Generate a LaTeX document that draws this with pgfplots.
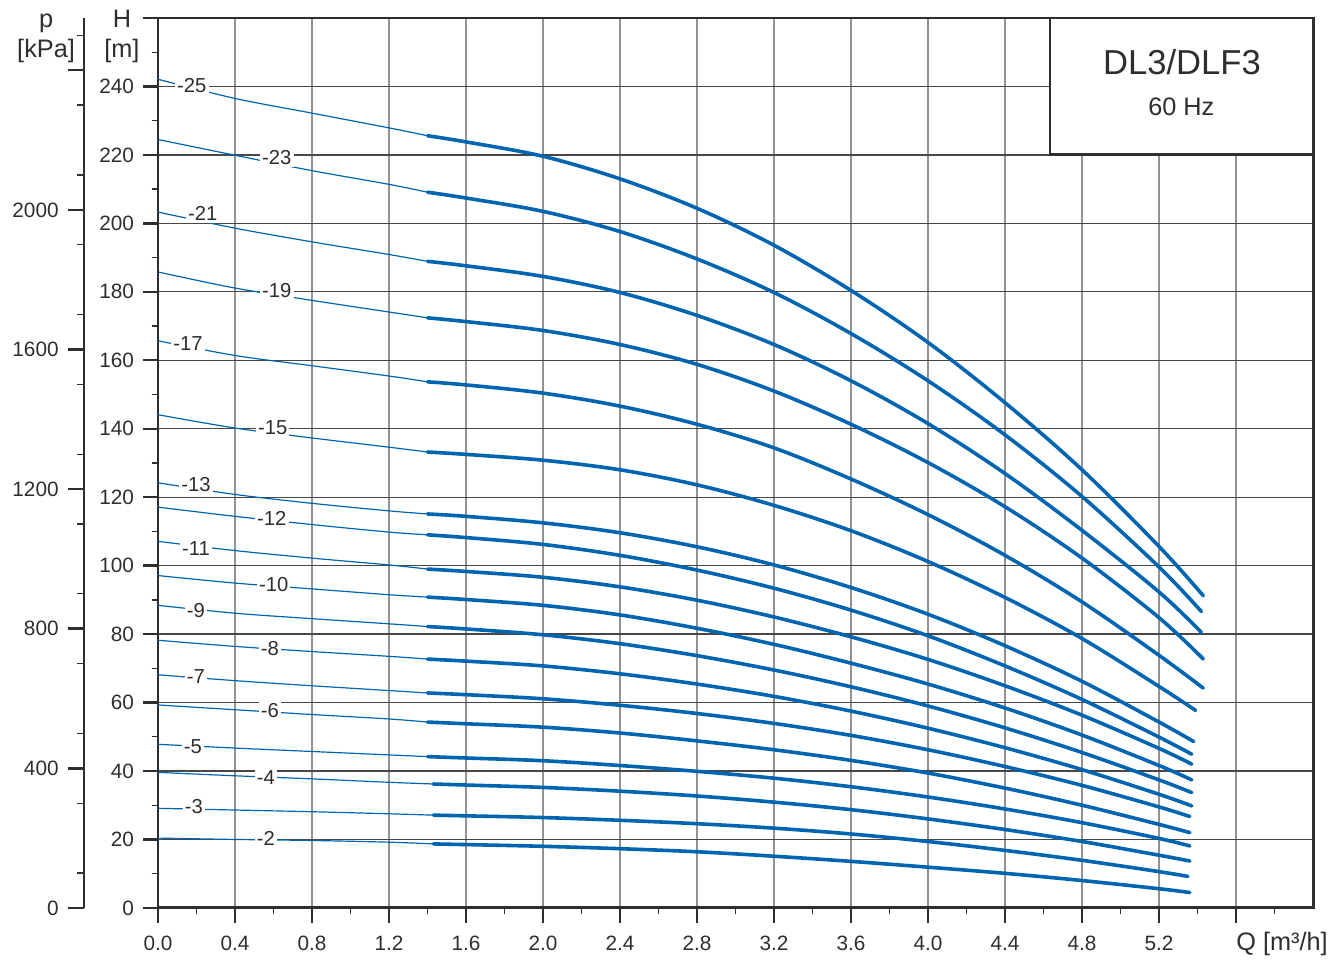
\documentclass[border=0pt]{standalone}
\usepackage{fontspec}
\setmainfont{Liberation Sans}
\usepackage{pgfplots}
\pgfplotsset{compat=1.18}
\definecolor{curve}{RGB}{0,101,176}
\definecolor{gridv}{RGB}{150,145,145}
\definecolor{gridh}{RGB}{75,70,70}
\definecolor{axc}{RGB}{50,45,45}
\pgfplotsset{
  thinc/.style={color=curve, line width=0.45pt, smooth, tension=0.55},
  thickc/.style={color=curve, line width=1.35pt, smooth, tension=0.55, line cap=round},
}
\tikzset{
  lbl/.style={fill=white, inner sep=0.8pt, text=axc, font=\fontsize{7.6}{9}\selectfont},
}
\begin{document}
\begin{tikzpicture}
\useasboundingbox (0,0) rectangle (500pt,362.1pt);
% pressure axis (kPa)
\begin{axis}[
  at={(31.56pt,21.04pt)}, anchor=south west, scale only axis,
  width=10pt, height=334.3pt,
  xmin=0, xmax=1, ymin=0, ymax=2549.7,
  axis x line=none, axis y line*=left,
  ytick={0,400,800,1200,1600,2000,2400},
  yticklabels={0,400,800,1200,1600,2000,{}},
  minor ytick={100,300,500,700,900,1100,1300,1500,1700,1900,2100,2300,2500},
  tick align=outside,
  major tick length=6pt, minor tick length=2.6pt,
  major tick style={line width=0.9pt, axc},
  minor tick style={line width=0.5pt, axc},
  axis line style={line width=1.1pt, axc},
  tick label style={font=\fontsize{7.8}{9}\selectfont, text=axc},
]
\end{axis}
% main axis
\begin{axis}[
  at={(59.35pt,21.04pt)}, anchor=south west, scale only axis,
  width=433.9pt, height=334.3pt,
  xmin=0, xmax=6, ymin=0, ymax=260,
  xtick={0,0.4,0.8,1.2,1.6,2.0,2.4,2.8,3.2,3.6,4.0,4.4,4.8,5.2,5.6},
  xticklabels={0.0,0.4,0.8,1.2,1.6,2.0,2.4,2.8,3.2,3.6,4.0,4.4,4.8,5.2,{}},
  minor xtick={0.2,0.6,1.0,1.4,1.8,2.2,2.6,3.0,3.4,3.8,4.2,4.6,5.0,5.4,5.8},
  ytick={0,20,40,60,80,100,120,140,160,180,200,220,240,260},
  yticklabels={0,20,40,60,80,100,120,140,160,180,200,220,240,{}},
  minor ytick={10,30,50,70,90,110,130,150,170,190,210,230,250},
  tick align=outside, tick pos=left,
  major tick length=5.5pt, minor tick length=2.4pt,
  major tick style={line width=0.9pt, axc},
  minor tick style={line width=0.5pt, axc},
  axis line style={line width=1.1pt, axc},
  grid=major,
  major x grid style={gridv, line width=0.6pt},
  major y grid style={gridh, line width=0.5pt},
  tick label style={font=\fontsize{7.8}{9}\selectfont, text=axc},
  xticklabel style={yshift=-1.5pt},
  clip=false,
]
% -25
\addplot[thinc] coordinates {(0,242.1)(0.4,236.5)(0.8,232.2)(1.2,227.9)(1.4,225.6)};
\addplot[thickc] coordinates {(1.4,225.6)(1.6,223.8)(2.0,219.6)(2.4,213.0)(2.8,204.4)(3.2,193.6)(3.6,180.4)(4.0,165.2)(4.4,147.6)(4.8,128.0)(5.2,105.6)(5.43,91.2)};
% -23
\addplot[thinc] coordinates {(0,224.5)(0.4,219.9)(0.8,215.4)(1.2,211.4)(1.4,209.1)};
\addplot[thickc] coordinates {(1.4,209.1)(1.6,207.4)(2.0,203.5)(2.4,197.6)(2.8,189.6)(3.2,179.8)(3.6,167.8)(4.0,154.0)(4.4,138.2)(4.8,120.2)(5.2,99.6)(5.42,86.6)};
% -21
\addplot[thinc] coordinates {(0,203.3)(0.4,198.6)(0.8,194.6)(1.2,190.9)(1.4,188.9)};
\addplot[thickc] coordinates {(1.4,188.9)(1.6,187.6)(2.0,184.5)(2.4,179.8)(2.8,173.1)(3.2,164.6)(3.6,154.0)(4.0,141.5)(4.4,126.9)(4.8,110.3)(5.2,92.3)(5.42,80.5)};
% -19
\addplot[thinc] coordinates {(0,185.8)(0.4,181.1)(0.8,177.5)(1.2,174.1)(1.4,172.4)};
\addplot[thickc] coordinates {(1.4,172.4)(1.6,171.3)(2.0,168.7)(2.4,164.6)(2.8,158.8)(3.2,151.0)(3.6,141.3)(4.0,130.1)(4.4,117.2)(4.8,102.2)(5.2,84.8)(5.43,72.7)};
% -17
\addplot[thinc] coordinates {(0,165.7)(0.4,161.4)(0.8,158.4)(1.2,155.4)(1.4,153.7)};
\addplot[thickc] coordinates {(1.4,153.7)(1.6,152.8)(2.0,150.4)(2.4,146.6)(2.8,141.3)(3.2,134.4)(3.6,125.3)(4.0,114.9)(4.4,103.0)(4.8,89.4)(5.2,73.8)(5.43,64.2)};
% -15
\addplot[thinc] coordinates {(0,144.1)(0.4,140.2)(0.8,137.3)(1.2,134.6)(1.4,133.2)};
\addplot[thickc] coordinates {(1.4,133.2)(1.6,132.5)(2.0,130.8)(2.4,128.0)(2.8,123.6)(3.2,117.6)(3.6,110.2)(4.0,101.2)(4.4,90.7)(4.8,78.7)(5.2,64.7)(5.39,57.7)};
% -13
\addplot[thinc] coordinates {(0,124.2)(0.4,120.8)(0.8,118.2)(1.2,116.0)(1.4,115.1)};
\addplot[thickc] coordinates {(1.4,115.1)(1.6,114.4)(2.0,112.5)(2.4,109.6)(2.8,105.5)(3.2,100.2)(3.6,93.6)(4.0,85.8)(4.4,76.6)(4.8,66.2)(5.2,54.3)(5.38,48.6)};
% -12
\addplot[thinc] coordinates {(0,117.1)(0.4,114.4)(0.8,112.0)(1.2,109.8)(1.4,109.0)};
\addplot[thickc] coordinates {(1.4,109.0)(1.6,108.2)(2.0,106.2)(2.4,103.0)(2.8,98.7)(3.2,93.4)(3.6,87.0)(4.0,79.5)(4.4,70.7)(4.8,60.9)(5.2,49.9)(5.37,44.9)};
% -11
\addplot[thinc] coordinates {(0,107.1)(0.4,104.4)(0.8,102.2)(1.2,100.2)(1.4,99.0)};
\addplot[thickc] coordinates {(1.4,99.0)(1.6,98.3)(2.0,96.6)(2.4,93.8)(2.8,89.9)(3.2,85.0)(3.6,79.2)(4.0,72.6)(4.4,64.9)(4.8,56.3)(5.2,46.6)(5.37,42.0)};
% -10
\addplot[thinc] coordinates {(0,97.1)(0.4,94.9)(0.8,93.2)(1.2,91.5)(1.4,90.8)};
\addplot[thickc] coordinates {(1.4,90.8)(1.6,90.1)(2.0,88.4)(2.4,85.6)(2.8,81.7)(3.2,77.0)(3.6,71.5)(4.0,65.4)(4.4,58.4)(4.8,50.5)(5.2,41.6)(5.37,37.4)};
% -9
\addplot[thinc] coordinates {(0,88.4)(0.4,86.1)(0.8,84.5)(1.2,83.0)(1.4,82.2)};
\addplot[thickc] coordinates {(1.4,82.2)(1.6,81.5)(2.0,79.8)(2.4,77.2)(2.8,73.7)(3.2,69.5)(3.6,64.6)(4.0,59.0)(4.4,52.6)(4.8,45.4)(5.2,37.4)(5.37,33.7)};
% -8
\addplot[thinc] coordinates {(0,78.2)(0.4,76.4)(0.8,74.9)(1.2,73.5)(1.4,72.7)};
\addplot[thickc] coordinates {(1.4,72.7)(1.6,72.1)(2.0,70.7)(2.4,68.4)(2.8,65.4)(3.2,61.8)(3.6,57.5)(4.0,52.5)(4.4,46.8)(4.8,40.4)(5.2,33.2)(5.37,29.8)};
% -7
\addplot[thinc] coordinates {(0,68.1)(0.4,66.4)(0.8,64.9)(1.2,63.5)(1.4,62.8)};
\addplot[thickc] coordinates {(1.4,62.8)(1.6,62.3)(2.0,61.1)(2.4,59.2)(2.8,56.8)(3.2,53.9)(3.6,50.4)(4.0,46.2)(4.4,41.3)(4.8,35.8)(5.2,29.5)(5.36,26.7)};
% -6
\addplot[thinc] coordinates {(0,59.3)(0.4,57.9)(0.8,56.5)(1.2,55.2)(1.4,54.3)};
\addplot[thickc] coordinates {(1.4,54.3)(1.6,53.8)(2.0,52.8)(2.4,51.1)(2.8,48.8)(3.2,46.2)(3.6,43.1)(4.0,39.4)(4.4,35.0)(4.8,30.0)(5.2,24.4)(5.36,22.0)};
% -5
\addplot[thinc] coordinates {(0,47.8)(0.4,46.7)(0.8,45.7)(1.2,44.7)(1.4,44.2)};
\addplot[thickc] coordinates {(1.4,44.2)(1.6,43.8)(2.0,43.0)(2.4,41.6)(2.8,39.9)(3.2,37.9)(3.6,35.4)(4.0,32.4)(4.4,28.9)(4.8,24.9)(5.2,20.3)(5.36,18.1)};
% -4
\addplot[thinc] coordinates {(0,39.6)(0.4,38.6)(0.8,37.7)(1.2,36.7)(1.43,36.2)};
\addplot[thickc] coordinates {(1.43,36.2)(1.6,35.9)(2.0,35.2)(2.4,34.1)(2.8,32.7)(3.2,30.9)(3.6,28.7)(4.0,26.0)(4.4,22.9)(4.8,19.4)(5.2,15.4)(5.36,13.7)};
% -3
\addplot[thinc] coordinates {(0,29.1)(0.4,28.6)(0.8,28.1)(1.2,27.5)(1.43,27.1)};
\addplot[thickc] coordinates {(1.43,27.1)(1.6,26.9)(2.0,26.4)(2.4,25.6)(2.8,24.6)(3.2,23.3)(3.6,21.6)(4.0,19.4)(4.4,16.8)(4.8,13.9)(5.2,10.6)(5.35,9.2)};
% -2
\addplot[thinc] coordinates {(0,20.4)(0.4,20.0)(0.8,19.7)(1.2,19.2)(1.43,18.7)};
\addplot[thickc] coordinates {(1.43,18.7)(1.6,18.5)(2.0,18.0)(2.4,17.3)(2.8,16.4)(3.2,15.1)(3.6,13.6)(4.0,11.9)(4.4,10.1)(4.8,8.0)(5.2,5.6)(5.36,4.5)};
% curve labels
\node[lbl] at (axis cs:0.176,240.3) {-25};
\node[lbl] at (axis cs:0.617,219.2) {-23};
\node[lbl] at (axis cs:0.233,202.9) {-21};
\node[lbl] at (axis cs:0.617,180.4) {-19};
\node[lbl] at (axis cs:0.156,164.9) {-17};
\node[lbl] at (axis cs:0.596,140.3) {-15};
\node[lbl] at (axis cs:0.197,123.7) {-13};
\node[lbl] at (axis cs:0.591,113.7) {-12};
\node[lbl] at (axis cs:0.197,104.9) {-11};
\node[lbl] at (axis cs:0.601,94.4) {-10};
\node[lbl] at (axis cs:0.197,86.8) {-9};
\node[lbl] at (axis cs:0.581,75.7) {-8};
\node[lbl] at (axis cs:0.197,67.5) {-7};
\node[lbl] at (axis cs:0.581,57.6) {-6};
\node[lbl] at (axis cs:0.181,47.1) {-5};
\node[lbl] at (axis cs:0.560,38.0) {-4};
\node[lbl] at (axis cs:0.187,29.5) {-3};
\node[lbl] at (axis cs:0.560,20.2) {-2};
% title box
\draw[draw=axc, fill=white, line width=0.8pt] (axis cs:4.635,220.1) rectangle (axis cs:6,260);
\node[text=axc, font=\fontsize{13}{15}\selectfont] at (axis cs:5.319,247.0) {DL3/DLF3};
\node[text=axc, font=\fontsize{9.5}{11}\selectfont] at (axis cs:5.316,234.2) {60 Hz};
\end{axis}
% axis labels
\node[anchor=base, text=axc, font=\fontsize{9.5}{11}\selectfont] at (45.8pt,351.6pt) {H};
\node[anchor=base, text=axc, font=\fontsize{9.5}{11}\selectfont] at (45.8pt,340.4pt) {[m]};
\node[anchor=base, text=axc, font=\fontsize{9.5}{11}\selectfont] at (17.3pt,351.6pt) {p};
\node[anchor=base, text=axc, font=\fontsize{9.5}{11}\selectfont] at (17.3pt,340.4pt) {[kPa]};
\node[anchor=base, text=axc, font=\fontsize{9.5}{11}\selectfont] at (481.6pt,5.0pt) {Q [m³/h]};
\end{tikzpicture}
\end{document}
